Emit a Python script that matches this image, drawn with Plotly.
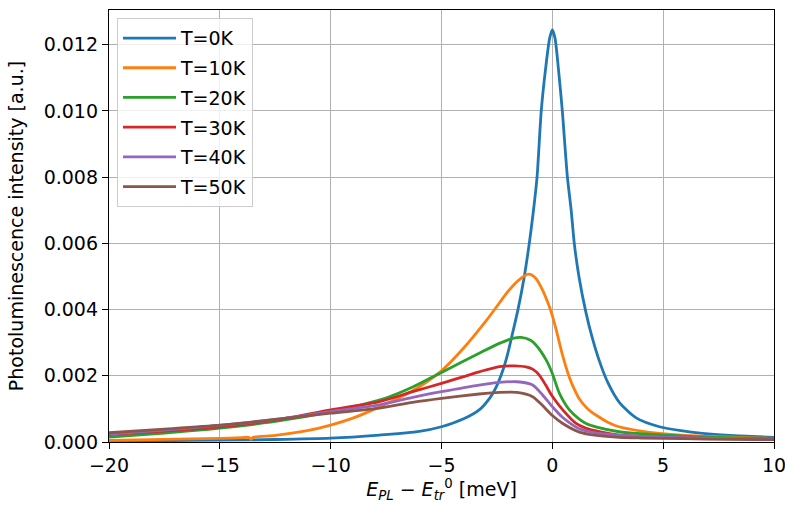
import plotly.graph_objects as go

# Values (intensity in units of 1e-3 a.u.)
labels = ["T=0K", "T=10K", "T=20K", "T=30K", "T=40K", "T=50K"]
colors = ["#1f77b4", "#ff7f0e", "#2ca02c", "#d62728", "#9467bd", "#8c564b"]

x_t0 = [-20, -17.5, -15, -12.5, -10, -7.8, -6, -5, -4, -3.3, -2.8, -2.54, -2.24, -2.02, -1.79, -1.55, -1.29,
        -1.04, -0.85, -0.69, -0.5, -0.3, -0.12, 0, 0.12, 0.3, 0.45, 0.68, 0.85, 0.99, 1.2, 1.52, 1.8, 2.12,
        2.5, 3.02, 3.8, 4.83, 5.8, 6.78, 8.0, 10]
y_t0 = [0.03, 0.04, 0.055, 0.075, 0.115, 0.21, 0.32, 0.46, 0.70, 0.97, 1.35, 1.65, 2.15, 2.65, 3.3, 4.0, 4.9,
        6.0, 7.0, 8.0, 10.0, 11.3, 12.2, 12.45, 12.2, 11.1, 10.0, 8.0, 7.0, 6.0, 5.0, 3.9, 3.15, 2.45,
        1.8, 1.2, 0.72, 0.46, 0.34, 0.26, 0.2, 0.14]

x_t10 = [-20, -17.5, -15, -14, -13.7, -13.6, -13.5, -12.5, -11, -10, -9, -8, -6.3, -5, -4.05, -3.0, -2.39,
         -2, -1.5, -1.07, -0.75, -0.44, -0.14, 0, 0.17, 0.47, 0.77, 1.0, 1.22, 1.6, 2.0, 2.5, 3.0, 4.0,
         4.83, 6, 7.4, 10]
y_t10 = [0.05, 0.08, 0.11, 0.13, 0.14, 0.08, 0.14, 0.2, 0.35, 0.51, 0.72, 1.0, 1.55, 2.15, 2.8, 3.65, 4.2,
         4.55, 4.9, 5.07, 4.95, 4.59, 4.1, 3.82, 3.4, 2.6, 1.95, 1.58, 1.3, 1.0, 0.8, 0.6, 0.46, 0.33,
         0.26, 0.2, 0.16, 0.11]

x_t20 = [-20, -17.5, -15, -12.5, -10, -7.5, -6.3, -5.3, -5, -3.3, -2.39, -1.79, -1.41, -1.0, -0.74, -0.28, 0,
         0.32, 0.77, 1.2, 1.52, 2.0, 3.02, 4.0, 5.13, 7, 10]
y_t20 = [0.15, 0.27, 0.42, 0.62, 0.92, 1.33, 1.66, 2.0, 2.1, 2.68, 2.98, 3.13, 3.16, 3.08, 2.93, 2.48, 2.07,
         1.47, 0.97, 0.7, 0.56, 0.45, 0.31, 0.25, 0.21, 0.15, 0.11]

x_t30 = [-20, -17.5, -15, -12.5, -10, -7.8, -6.3, -5, -3.3, -2.39, -1.71, -1.19, -0.89, -0.59, -0.3, 0, 0.47,
         1.07, 1.5, 2.12, 3.02, 4, 5.88, 8, 10]
y_t30 = [0.22, 0.33, 0.46, 0.66, 0.97, 1.22, 1.52, 1.77, 2.12, 2.28, 2.3, 2.27, 2.2, 2.02, 1.72, 1.38, 0.97,
         0.56, 0.42, 0.31, 0.21, 0.17, 0.13, 0.1, 0.08]

x_t40 = [-20, -17.5, -15, -12.5, -10, -7.8, -6.3, -5, -3.3, -2.39, -1.6, -0.89, -0.44, 0, 0.47, 1.22, 2.0,
         3.02, 4, 5.88, 8, 10]
y_t40 = [0.24, 0.36, 0.5, 0.68, 0.92, 1.12, 1.35, 1.52, 1.72, 1.8, 1.82, 1.72, 1.42, 1.07, 0.74, 0.4, 0.27,
         0.21, 0.17, 0.13, 0.1, 0.08]

x_t50 = [-20, -17.5, -15, -12.5, -10, -7.8, -6.3, -5, -3.3, -2.39, -1.6, -0.89, -0.44, 0, 0.47, 1.22, 2.0,
         3.02, 4, 5.88, 8, 10]
y_t50 = [0.28, 0.39, 0.51, 0.68, 0.87, 1.02, 1.2, 1.32, 1.45, 1.5, 1.5, 1.37, 1.1, 0.8, 0.56, 0.3, 0.2,
         0.14, 0.12, 0.1, 0.08, 0.07]

x_ticks = [-20, -15, -10, -5, 0, 5, 10]
y_ticks = [0.000, 0.002, 0.004, 0.006, 0.008, 0.010, 0.012]

series_x = [x_t0, x_t10, x_t20, x_t30, x_t40, x_t50]
series_y = [y_t0, y_t10, y_t20, y_t30, y_t40, y_t50]

FONT = "DejaVu Sans"
FS = 19
fig = go.Figure()
for i, (xs, ys) in enumerate(zip(series_x, series_y)):
    fig.add_trace(go.Scatter(
        x=xs, y=[v * 1e-3 for v in ys], mode="lines", name=labels[i],
        legendgroup=labels[i],
        line=dict(color=colors[i], width=2.8, shape="spline", smoothing=0.7),
    ))

axis_common = dict(
    showline=True, linecolor="black", linewidth=1.3, mirror=True,
    ticks="outside", ticklen=6, tickwidth=1.3, tickcolor="black",
    showgrid=True, gridcolor="#b0b0b0", gridwidth=1.3,
    zeroline=False, tickfont=dict(family=FONT, size=FS, color="black"),
    automargin=False,
)

fig.update_layout(
    width=785, height=508,
    margin=dict(l=109, r=11, t=10, b=66),
    paper_bgcolor="white", plot_bgcolor="white",
    font=dict(family=FONT, size=FS, color="black"),
    xaxis=dict(range=[-20, 10], tickvals=x_ticks, ticklabeloverflow="allow",
               title=dict(text="<i>E</i><sub><i>PL</i></sub> − <i>E</i><sub><i>tr</i></sub><sup>0</sup> [meV]",
                          font=dict(family=FONT, size=FS), standoff=6),
               **axis_common),
    yaxis=dict(range=[0, 0.01305], tickvals=y_ticks, tickformat=".3f",
               title=dict(text="Photoluminescence intensity [a.u.]", font=dict(family=FONT, size=FS), standoff=14),
               **axis_common),
    legend=dict(x=0.012, y=0.981, xanchor="left", yanchor="top",
                bgcolor="rgba(255,255,255,0.8)", bordercolor="#cccccc", borderwidth=1,
                font=dict(family=FONT, size=FS), tracegroupgap=2, traceorder="grouped",
                itemwidth=53),
    showlegend=True,
)

fig.write_html("out.html", config={"displayModeBar": False},
               post_script="document.body.style.margin='0px';")
